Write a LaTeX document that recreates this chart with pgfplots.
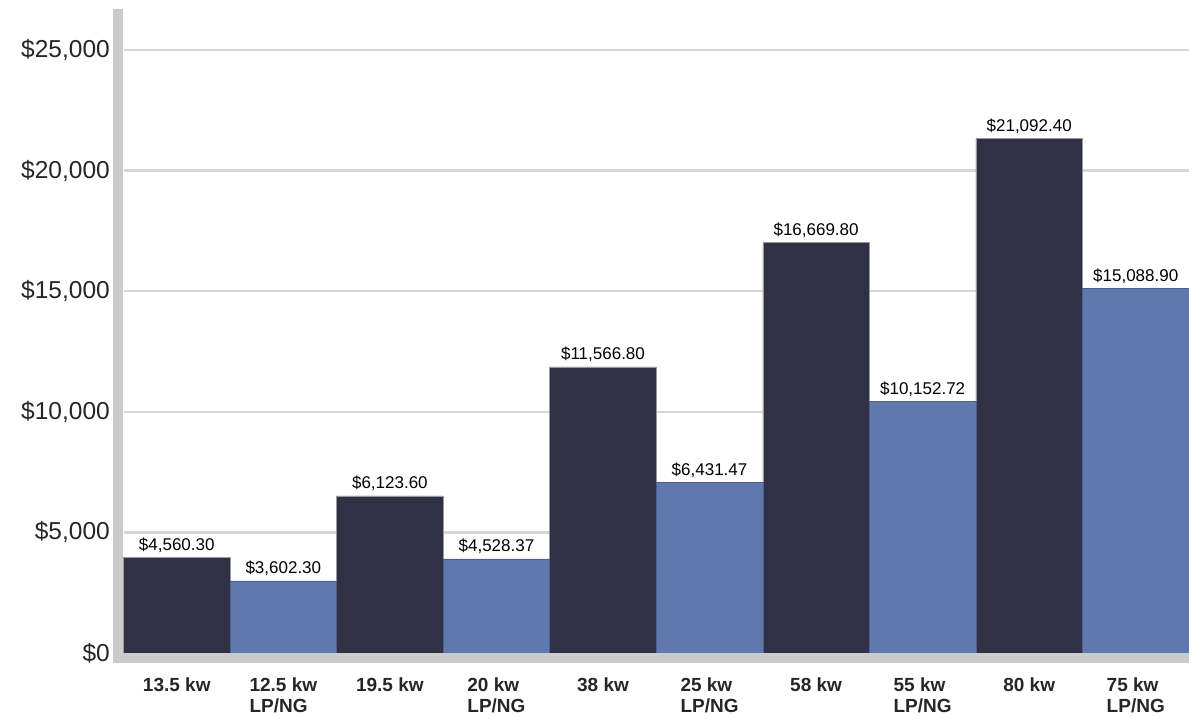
\documentclass[border=0pt]{standalone}
\usepackage{pgfplots}
\pgfplotsset{compat=1.18}
\usepackage{fontspec}
\setmainfont{Liberation Sans}
\definecolor{darkbar}{HTML}{303146}
\definecolor{bluebar}{HTML}{5F78AE}
\definecolor{axgray}{HTML}{CBCBCB}
\definecolor{gridgray}{HTML}{D6D6D6}
\begin{document}
\begin{tikzpicture}[x=1pt,y=1pt]
\useasboundingbox (0,0) rectangle (1189,718);
\begin{axis}[
  at={(123.5pt,65pt)}, anchor=south west,
  scale only axis, width=1065.5pt, height=643.7pt,
  xmin=-0.5, xmax=9.5, ymin=0, ymax=26690,
  axis line style={draw=none},
  major tick length=0pt,
  ymajorgrids, grid style={gridgray, line width=2.3pt},
  ytick={0,5000,10000,15000,20000,25000},
  yticklabels={\$0,{\$5,000},{\$10,000},{\$15,000},{\$20,000},{\$25,000}},
  yticklabel style={font=\fontsize{24.5}{27}\selectfont, text=black!85, anchor=east, inner sep=0pt, xshift=-13.5pt},
  xtick={0,...,9},
  xticklabels={13.5 kw,{12.5 kw\\LP/NG},19.5 kw,{20 kw\\LP/NG},38 kw,{25 kw\\LP/NG},58 kw,{55 kw\\LP/NG},80 kw,{75 kw\\LP/NG}},
  xticklabel style={font=\bfseries\fontsize{19}{21}\selectfont, text=black!85, align=left, anchor=north, inner sep=0pt, yshift=-25pt},
  ybar, bar width=1, bar shift=0pt,
  nodes near coords, point meta=explicit symbolic,
  every node near coord/.append style={font=\fontsize{17}{19}\selectfont, text=black, anchor=base, inner sep=0pt, yshift=7pt},
  clip=false,
]
\addplot[fill=darkbar, draw=black!40, line width=0.6pt] coordinates {
  (0,3970) [\$4,560.30]
  (2,6510) [\$6,123.60]
  (4,11860) [\$11,566.80]
  (6,17010) [\$16,669.80]
  (8,21340) [\$21,092.40]
};
\addplot[fill=bluebar, draw=bluebar!80!black, line width=0.6pt] coordinates {
  (1,2990) [\$3,602.30]
  (3,3900) [\$4,528.37]
  (5,7060) [\$6,431.47]
  (7,10420) [\$10,152.72]
  (9,15120) [\$15,088.90]
};
\end{axis}
\fill[axgray] (112.7,54.7) rectangle (123.3,708.7);
\fill[axgray] (112.7,54.7) rectangle (1189,65);
\end{tikzpicture}
\end{document}
